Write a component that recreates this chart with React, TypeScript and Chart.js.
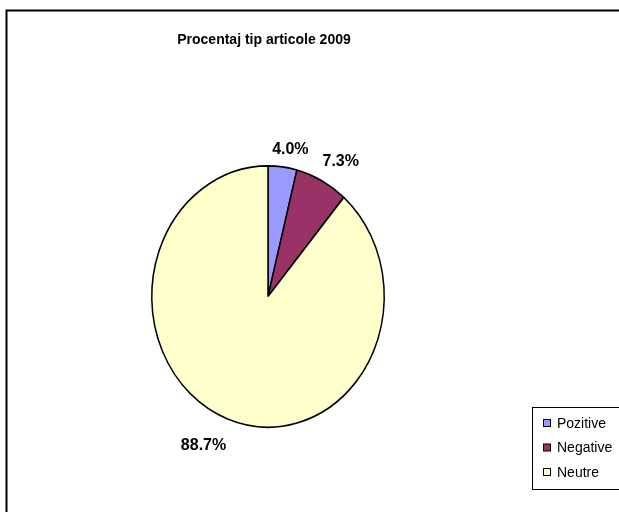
import React, { useEffect, useRef } from "react";
import { Chart, registerables } from "chart.js";

Chart.register(...registerables);

const TITLE = "Procentaj tip articole 2009";
const categories = ["Pozitive", "Negative", "Neutre"];
const percentValues = [4.0, 7.3, 88.7];
const sliceColors = ["#9999FF", "#993366", "#FFFFCC"];

const W = 619;
const H = 512;
const Y_SCALE = 131.5 / 117;
// small label offsets mimicking the spreadsheet's label placement
const LABEL_NUDGE = [
  [4, 3],
  [5, -1],
  [-12, 7],
];

const ellipsePlugin = {
  id: "ellipse",
  beforeDatasetsDraw(chart: any) {
    const meta = chart.getDatasetMeta(0);
    const arc = meta.data[0];
    if (!arc) return;
    const ctx = chart.ctx;
    ctx.save();
    ctx.translate(arc.x, arc.y);
    ctx.scale(1, Y_SCALE);
    ctx.translate(-arc.x, -arc.y);
  },
  afterDatasetsDraw(chart: any) {
    chart.ctx.restore();
  },
};

const decorPlugin = {
  id: "decor",
  beforeDraw(chart: any) {
    const ctx = chart.ctx;
    ctx.save();
    ctx.fillStyle = "#ffffff";
    ctx.fillRect(0, 0, W, H);
    ctx.strokeStyle = "#000000";
    ctx.lineWidth = 2;
    ctx.beginPath();
    ctx.moveTo(6.5, H + 2);
    ctx.lineTo(6.5, 10.5);
    ctx.lineTo(W + 2, 10.5);
    ctx.stroke();
    ctx.restore();
  },
  afterDraw(chart: any) {
    const ctx = chart.ctx;
    ctx.save();
    // title
    ctx.fillStyle = "#000000";
    ctx.font = "bold 14px 'Liberation Sans', Arial, sans-serif";
    ctx.textAlign = "center";
    ctx.textBaseline = "middle";
    ctx.fillText(TITLE, 264, 40);

    // data labels
    const meta = chart.getDatasetMeta(0);
    ctx.font = "bold 16px 'Liberation Sans', Arial, sans-serif";
    meta.data.forEach((arc: any, i: number) => {
      const mid = (arc.startAngle + arc.endAngle) / 2;
      const ux = Math.cos(mid);
      const uy = Math.sin(mid);
      const txt = percentValues[i].toFixed(1) + "%";
      const w = ctx.measureText(txt).width;
      const h = 14;
      const gap = 12;
      const px = arc.x + ux * (arc.outerRadius + gap) + (ux * w) / 2 + LABEL_NUDGE[i][0];
      const py = arc.y + uy * (arc.outerRadius + gap) * Y_SCALE + (uy * h) / 2 + LABEL_NUDGE[i][1];
      ctx.fillText(txt, px, py);
    });

    // legend
    const lx = 532.5;
    const ly = 407.5;
    ctx.fillStyle = "#ffffff";
    ctx.fillRect(lx, ly, 90, 82);
    ctx.strokeStyle = "#000000";
    ctx.lineWidth = 1;
    ctx.strokeRect(lx, ly, 90, 82);
    ctx.font = "14px 'Liberation Sans', Arial, sans-serif";
    ctx.textAlign = "left";
    categories.forEach((c, i) => {
      const cy = 423 + i * 24.5;
      ctx.fillStyle = sliceColors[i];
      ctx.fillRect(543.5, cy - 3.5, 7, 7);
      ctx.strokeStyle = "#000000";
      ctx.strokeRect(543.5, cy - 3.5, 7, 7);
      ctx.fillStyle = "#000000";
      ctx.fillText(c, 557, cy + 1);
    });
    ctx.restore();
  },
};

export default function App() {
  const ref = useRef<HTMLCanvasElement | null>(null);
  useEffect(() => {
    if (!ref.current) return;
    const chart = new Chart(ref.current, {
      type: "pie",
      data: {
        labels: categories,
        datasets: [
          {
            data: percentValues,
            backgroundColor: sliceColors,
            borderColor: "#000000",
            borderWidth: 1.5,
            clip: false as any,
          } as any,
        ],
      },
      options: {
        responsive: false,
        animation: false,
        devicePixelRatio: 1,
        layout: {
          padding: { left: 151, right: W - 385, top: 165, bottom: H - 428 },
        },
        plugins: {
          legend: { display: false },
          title: { display: false },
          tooltip: { enabled: false },
        },
      } as any,
      plugins: [decorPlugin, ellipsePlugin],
    });
    return () => chart.destroy();
  }, []);
  return (
    <canvas
      ref={ref}
      width={W}
      height={H}
      style={{ position: "absolute", left: 0, top: 0, width: W, height: H }}
    />
  );
}
